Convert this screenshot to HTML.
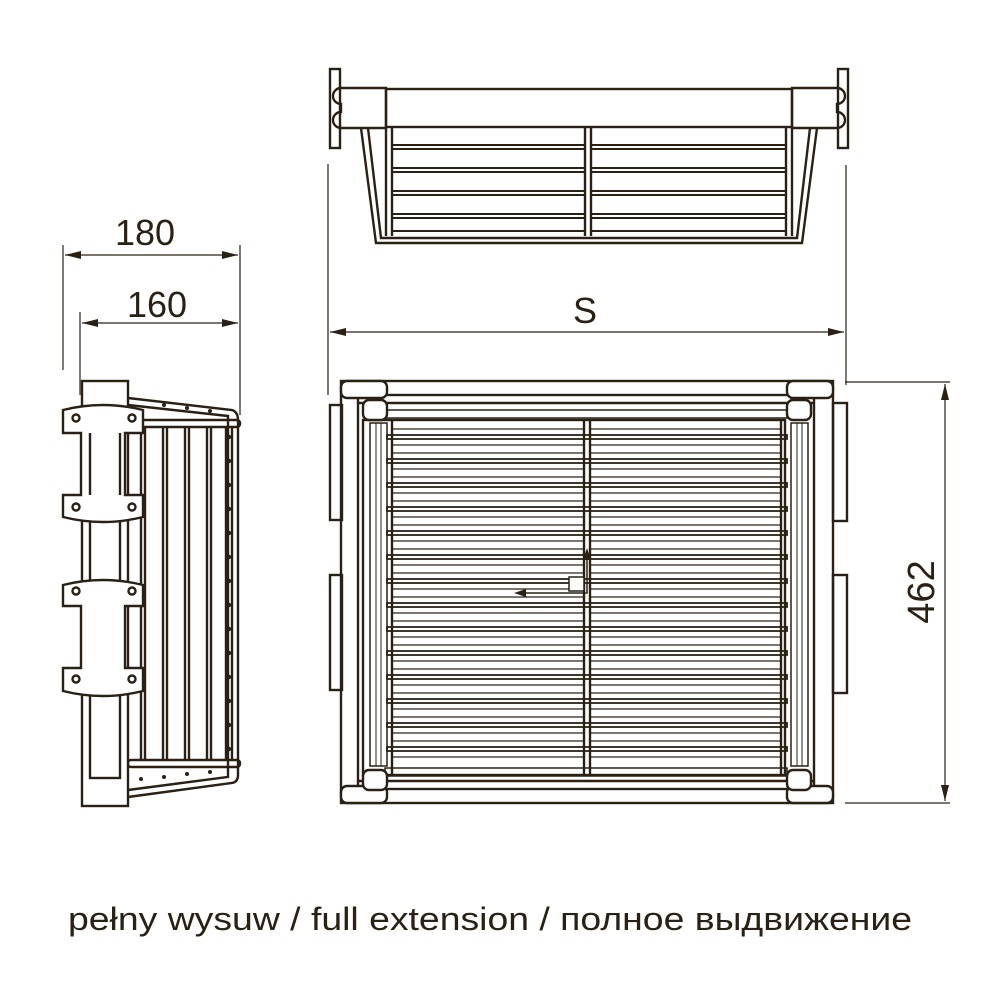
<!DOCTYPE html>
<html><head><meta charset="utf-8"><style>
html,body{margin:0;padding:0;background:#fff;width:1000px;height:1000px;overflow:hidden}
svg{display:block}
text{font-family:"Liberation Sans","DejaVu Sans",sans-serif;fill:#2a2014}
</style></head><body>
<svg width="1000" height="1000" viewBox="0 0 1000 1000" xmlns="http://www.w3.org/2000/svg">
<g fill="none" stroke="#2a2014" stroke-width="2.4">
<!-- TOP VIEW BASKET -->
<rect x="330" y="69" width="10" height="79"/>
<rect x="838" y="69" width="10" height="79"/>
<path d="M341,88 h45 v40 h-45 a8,8 0 0 1 0,-16 v-8 a8,8 0 0 1 0,-16z"/>
<path d="M837,88 h-45 v40 h45 a8,8 0 0 0 0,-16 v-8 a8,8 0 0 0 0,-16z"/>
<rect x="386" y="89" width="406" height="38"/>
<path d="M361,128 L376,243 L802,243 L817,128"/>
<path d="M368,128 L381,238 L797,238 L810,128"/>
<line x1="386" y1="128" x2="386" y2="236"/><line x1="392" y1="128" x2="392" y2="236"/>
<line x1="786" y1="128" x2="786" y2="236"/><line x1="792" y1="128" x2="792" y2="236"/>
<line x1="585" y1="128" x2="585" y2="236"/><line x1="591" y1="128" x2="591" y2="236"/>
<g stroke-width="2">
<line x1="392" y1="145" x2="585" y2="145"/><line x1="392" y1="149" x2="585" y2="149"/>
<line x1="591" y1="145" x2="786" y2="145"/><line x1="591" y1="149" x2="786" y2="149"/>
<line x1="392" y1="168" x2="585" y2="168"/><line x1="392" y1="172" x2="585" y2="172"/>
<line x1="591" y1="168" x2="786" y2="168"/><line x1="591" y1="172" x2="786" y2="172"/>
<line x1="392" y1="191" x2="585" y2="191"/><line x1="392" y1="195" x2="585" y2="195"/>
<line x1="591" y1="191" x2="786" y2="191"/><line x1="591" y1="195" x2="786" y2="195"/>
<line x1="392" y1="214" x2="585" y2="214"/><line x1="392" y1="218" x2="585" y2="218"/>
<line x1="591" y1="214" x2="786" y2="214"/><line x1="591" y1="218" x2="786" y2="218"/>
<line x1="392" y1="231" x2="585" y2="231"/><line x1="591" y1="231" x2="786" y2="231"/>
</g>
<g stroke-width="1.2">
<line x1="328" y1="164" x2="328" y2="395"/><line x1="846" y1="165" x2="846" y2="385"/>
<line x1="330" y1="332" x2="844" y2="332"/>
<line x1="63" y1="245" x2="63" y2="370"/><line x1="240" y1="245" x2="240" y2="415"/>
<line x1="80" y1="312" x2="80" y2="395"/>
<line x1="65" y1="255" x2="238" y2="255"/><line x1="82" y1="323" x2="238" y2="323"/>
<line x1="845" y1="382" x2="950" y2="382"/><line x1="845" y1="803" x2="950" y2="803"/>
<line x1="945" y1="384" x2="945" y2="801"/>
</g>
</g>
<g fill="#2a2014">
<path d="M330,332 l16,-4 v8z"/><path d="M844,332 l-16,-4 v8z"/>
<path d="M65,255 l16,-4 v8z"/><path d="M238,255 l-16,-4 v8z"/>
<path d="M82,323 l16,-4 v8z"/><path d="M238,323 l-16,-4 v8z"/>
<path d="M945,384 l-4,16 h8z"/><path d="M945,801 l-4,-16 h8z"/>
</g>
<text x="145" y="245" font-size="36" text-anchor="middle">180</text>
<text x="157" y="317" font-size="36" text-anchor="middle">160</text>
<text x="585" y="323" font-size="36" text-anchor="middle">S</text>
<text x="0" y="0" font-size="38" text-anchor="middle" transform="translate(934,592) rotate(-90)">462</text>

<!-- SIDE VIEW -->
<g fill="none" stroke="#2a2014" stroke-width="2.4">
<path d="M128,398 L232,410 Q238,412 238,420 L238,775 Q238,782 232,783 L128,797"/>
<path d="M128,405 L228,416 L228,777 L128,790"/>
<rect x="128" y="420" width="112" height="7" rx="3"/>
<rect x="128" y="760" width="112" height="7" rx="3"/>
<line x1="141" y1="427" x2="141" y2="760"/><line x1="145" y1="427" x2="145" y2="760"/>
<line x1="163" y1="427" x2="163" y2="760"/><line x1="167" y1="427" x2="167" y2="760"/>
<line x1="185" y1="427" x2="185" y2="760"/><line x1="189" y1="427" x2="189" y2="760"/>
<line x1="207" y1="427" x2="207" y2="760"/><line x1="211" y1="427" x2="211" y2="760"/>
<line x1="226" y1="427" x2="226" y2="760"/><line x1="232" y1="427" x2="232" y2="760"/>
<rect x="82" y="381" width="46" height="425" fill="#fff"/>
<rect x="90" y="520" width="30" height="258"/>
<path d="M63,410 Q103,400 143,410 v23 h-18 v62 h18 v22 Q103,527 63,517 v-22 h18 v-62 h-18z" fill="#fff"/>
<path d="M63,585 Q103,575 143,585 v21 h-18 v62 h18 v23 Q103,701 63,691 v-23 h18 v-62 h-18z" fill="#fff"/>
<line x1="90" y1="433" x2="90" y2="495"/><line x1="120" y1="433" x2="120" y2="495"/>
<circle cx="76" cy="418" r="3.5"/><circle cx="132" cy="418" r="3.5"/>
<circle cx="76" cy="507" r="3.5"/><circle cx="132" cy="507" r="3.5"/>
<circle cx="76" cy="591" r="3.5"/><circle cx="132" cy="591" r="3.5"/>
<circle cx="76" cy="679" r="3.5"/><circle cx="132" cy="679" r="3.5"/>
</g>
<g fill="#2a2014">
<circle cx="229" cy="437" r="2.2"/><circle cx="229" cy="461" r="2.2"/><circle cx="229" cy="485" r="2.2"/><circle cx="229" cy="509" r="2.2"/><circle cx="229" cy="533" r="2.2"/><circle cx="229" cy="557" r="2.2"/><circle cx="229" cy="581" r="2.2"/><circle cx="229" cy="605" r="2.2"/><circle cx="229" cy="629" r="2.2"/><circle cx="229" cy="653" r="2.2"/><circle cx="229" cy="677" r="2.2"/><circle cx="229" cy="701" r="2.2"/><circle cx="229" cy="725" r="2.2"/><circle cx="229" cy="749" r="2.2"/>
<circle cx="164" cy="405" r="2"/><circle cx="187" cy="408" r="2"/><circle cx="210" cy="411" r="2"/>
<circle cx="141" cy="779" r="2"/><circle cx="164" cy="777" r="2"/><circle cx="187" cy="774" r="2"/><circle cx="210" cy="772" r="2"/>
</g>

<!-- PLAN VIEW -->
<g fill="none" stroke="#2a2014" stroke-width="2.4">
<rect x="330" y="405" width="12" height="115"/><rect x="330" y="575" width="12" height="115"/>
<rect x="833" y="403" width="14" height="118"/><rect x="833" y="575" width="14" height="118"/>
<rect x="341" y="381" width="492" height="422"/>
<rect x="358" y="395" width="456" height="394"/>
<line x1="358" y1="403" x2="814" y2="403"/><line x1="358" y1="781" x2="814" y2="781"/>
<rect x="385" y="410" width="402" height="8" stroke-width="1.5"/>
<rect x="385" y="768" width="402" height="8" stroke-width="1.5"/>
<rect x="363" y="420" width="422" height="355"/>
<rect x="370" y="423" width="17" height="343" stroke-width="1.5"/>
<rect x="791" y="423" width="17" height="343" stroke-width="1.5"/>
<line x1="376" y1="423" x2="376" y2="766" stroke-width="1"/><line x1="381" y1="423" x2="381" y2="766" stroke-width="1"/>
<line x1="797" y1="423" x2="797" y2="766" stroke-width="1"/><line x1="802" y1="423" x2="802" y2="766" stroke-width="1"/>
<rect x="341" y="381" width="46" height="17" rx="6" fill="#fff"/>
<rect x="787" y="381" width="46" height="17" rx="6" fill="#fff"/>
<rect x="341" y="786" width="46" height="17" rx="6" fill="#fff"/>
<rect x="787" y="786" width="46" height="17" rx="6" fill="#fff"/>
<rect x="363" y="400" width="24" height="20" rx="6" fill="#fff"/>
<rect x="787" y="400" width="24" height="20" rx="6" fill="#fff"/>
<rect x="363" y="770" width="24" height="20" rx="6" fill="#fff"/>
<rect x="787" y="770" width="24" height="20" rx="6" fill="#fff"/>
<line x1="392" y1="420" x2="392" y2="775"/><line x1="781" y1="420" x2="781" y2="775"/>
<line x1="584" y1="420" x2="584" y2="775"/><line x1="590" y1="420" x2="590" y2="775"/>
<g stroke-width="1.3">
<path d="M392,429H584M590,429H781M392,445H584M590,445H781M392,453H584M590,453H781M392,469H584M590,469H781M392,477H584M590,477H781M392,493H584M590,493H781M392,501H584M590,501H781M392,517H584M590,517H781M392,525H584M590,525H781M392,541H584M590,541H781M392,549H584M590,549H781M392,565H584M590,565H781M392,573H584M590,573H781M392,589H584M590,589H781M392,597H584M590,597H781M392,613H584M590,613H781M392,621H584M590,621H781M392,637H584M590,637H781M392,645H584M590,645H781M392,661H584M590,661H781M392,669H584M590,669H781M392,685H584M590,685H781M392,693H584M590,693H781M392,709H584M590,709H781M392,717H584M590,717H781M392,733H584M590,733H781M392,741H584M590,741H781M392,757H584M590,757H781"/>
</g>
<g stroke-width="1.8">
<rect x="387" y="435" width="400" height="4"/><rect x="387" y="459" width="400" height="4"/><rect x="387" y="483" width="400" height="4"/><rect x="387" y="507" width="400" height="4"/><rect x="387" y="531" width="400" height="4"/><rect x="387" y="555" width="400" height="4"/><rect x="387" y="579" width="400" height="4"/><rect x="387" y="603" width="400" height="4"/><rect x="387" y="627" width="400" height="4"/><rect x="387" y="651" width="400" height="4"/><rect x="387" y="675" width="400" height="4"/><rect x="387" y="699" width="400" height="4"/><rect x="387" y="723" width="400" height="4"/><rect x="387" y="747" width="400" height="4"/>
</g>
<path d="M518,593 H587 V560" stroke-width="1.5"/>
<rect x="569" y="577" width="15" height="14" fill="#fff" stroke-width="1.5"/>
</g>
<g fill="#2a2014"><path d="M514,593 l12,-4 v8z"/><path d="M587,548 l-4,12 h8z"/></g>

<text x="68" y="930" font-size="32" textLength="844" lengthAdjust="spacingAndGlyphs">pełny wysuw / full extension / полное выдвижение</text>
</svg>
</body></html>
